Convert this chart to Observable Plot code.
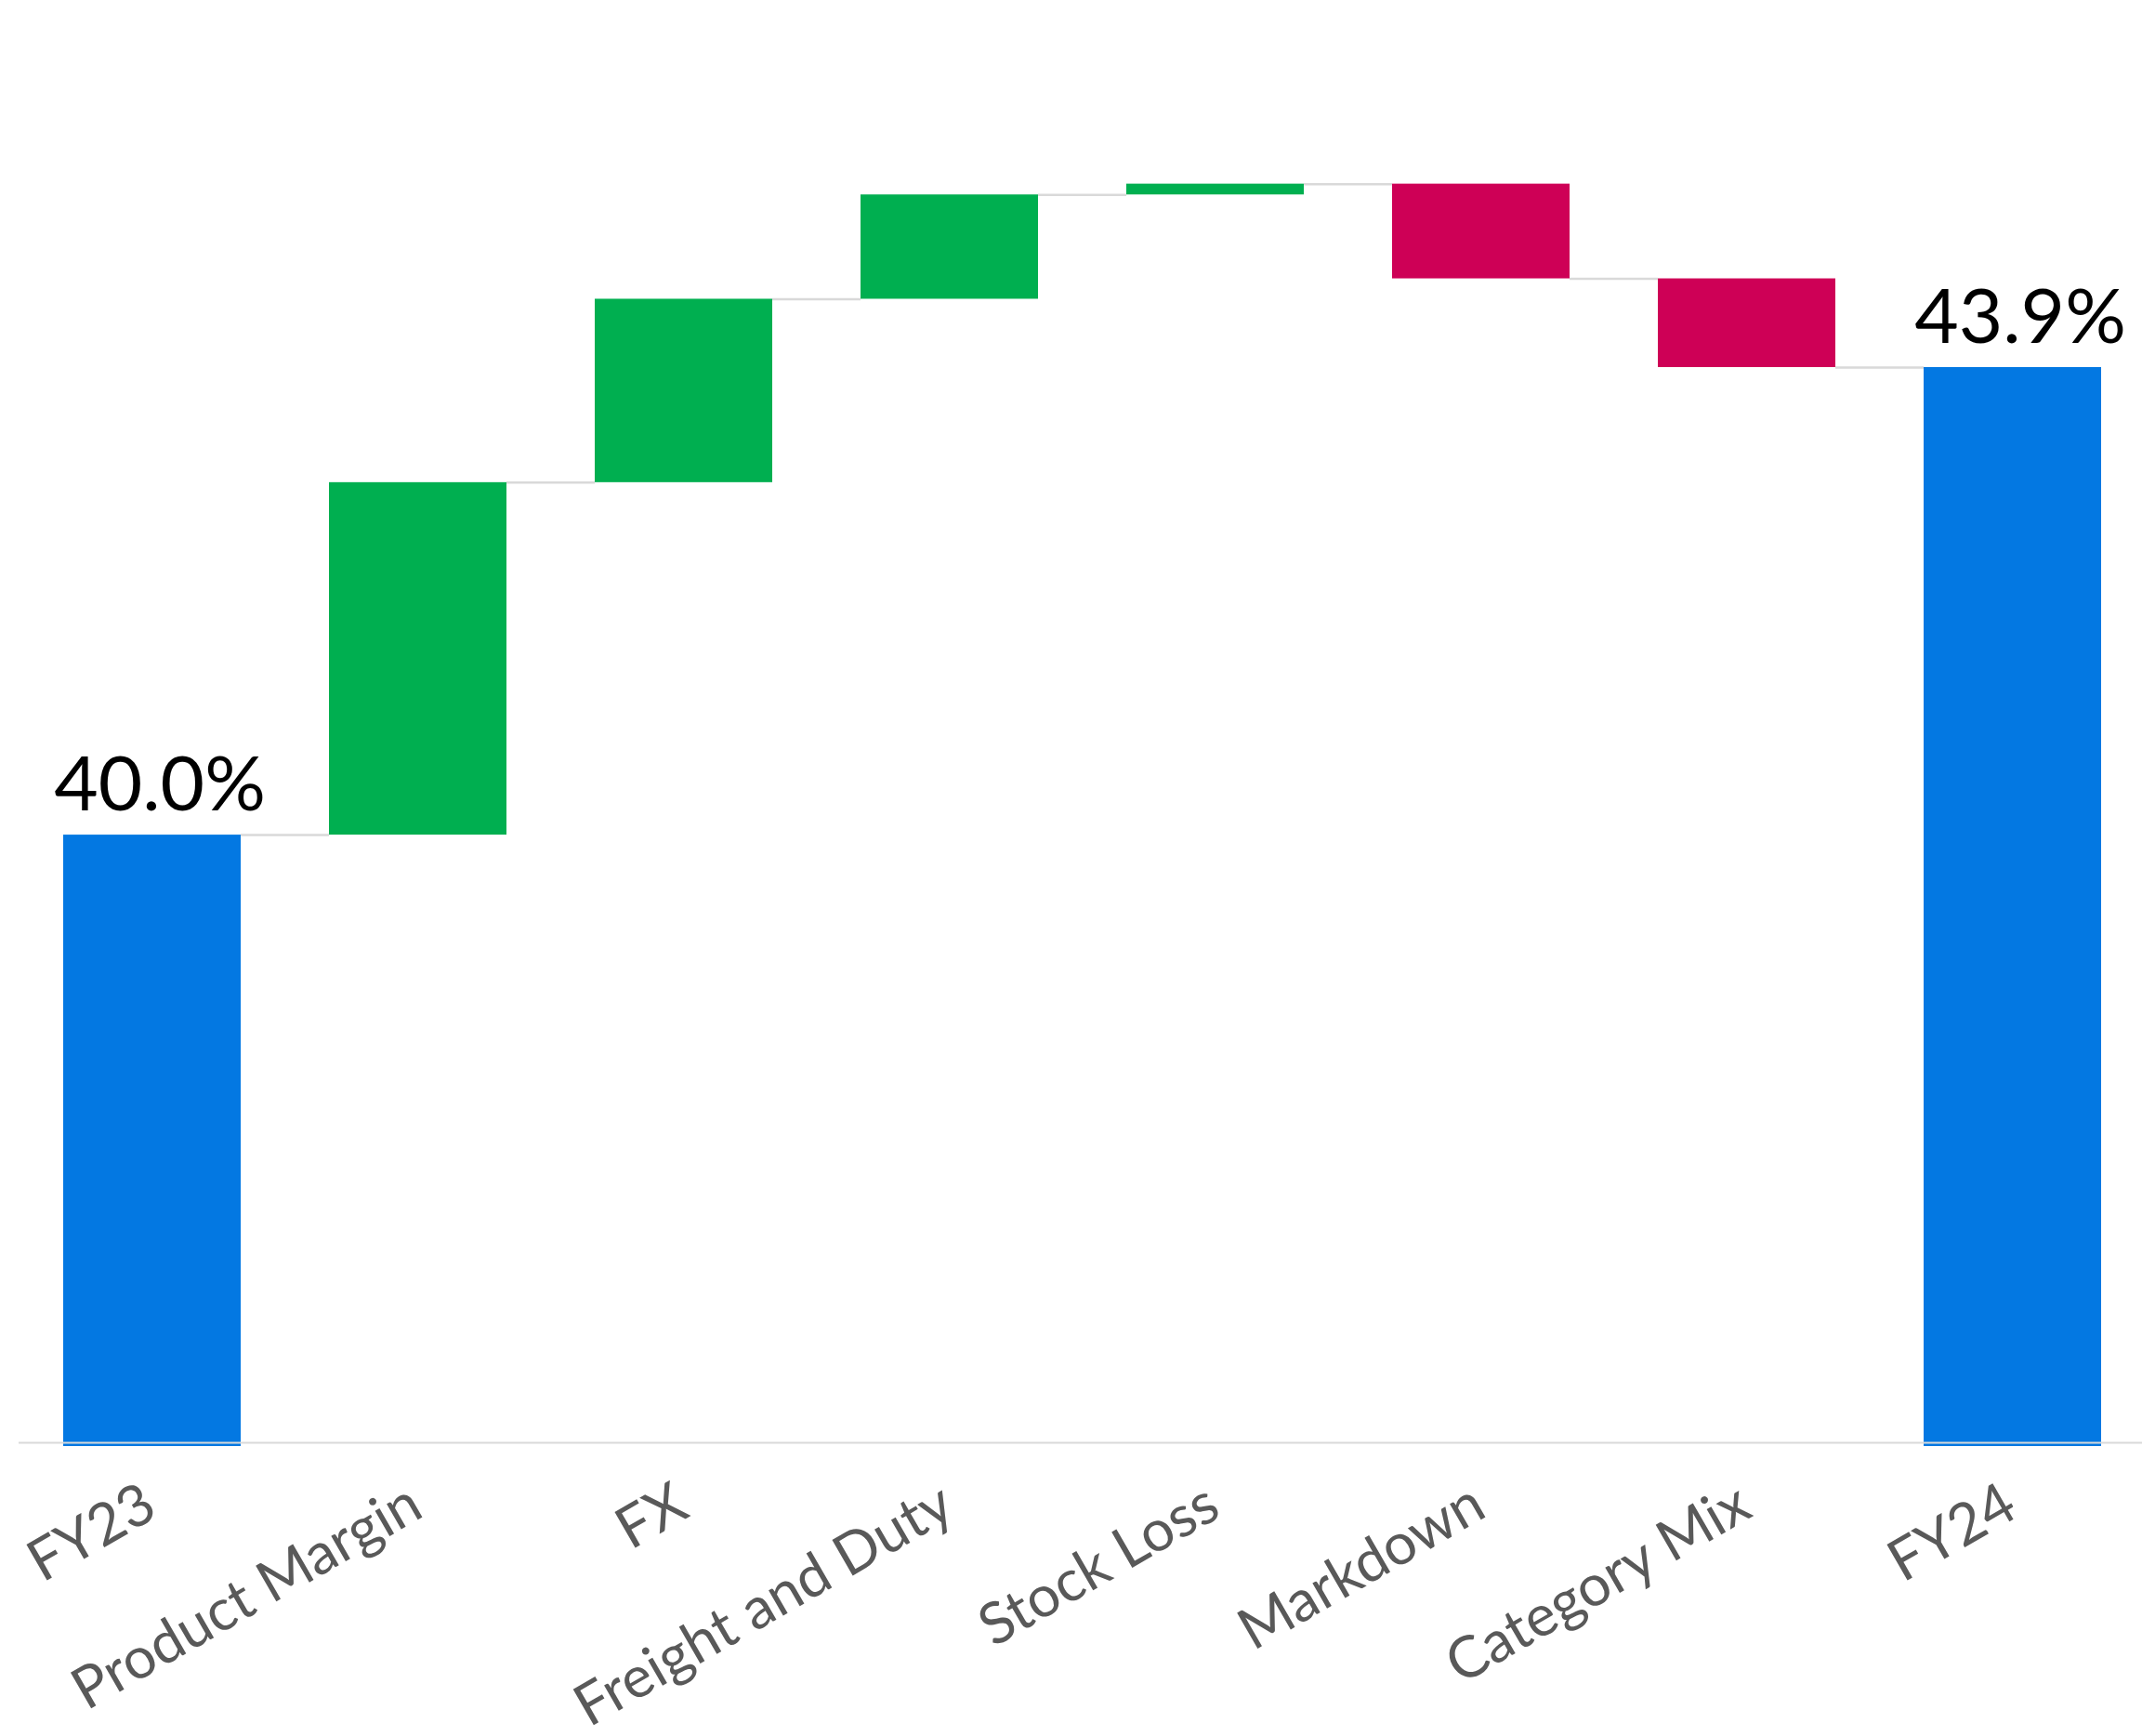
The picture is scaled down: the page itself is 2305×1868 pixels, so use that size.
<!DOCTYPE html>
<html>
<head>
<meta charset="utf-8">
<script src="https://cdn.jsdelivr.net/npm/d3@7"></script>
<script src="https://cdn.jsdelivr.net/npm/@observablehq/plot@0.6"></script>
<style>
  html, body { margin: 0; padding: 0; background: #ffffff; }
  #chart svg { display: block; }
</style>
</head>
<body>
<div id="chart"></div>
<script>
// ---- Data ----
const categories = ["FY23", "Product Margin", "FX", "Freight and Duty", "Stock Loss", "Markdown", "Category Mix", "FY24"];
const startValue = 40.0;   // FY23 gross margin, %
const endValue = 43.9;     // FY24 gross margin, %
const changeCategories = ["Product Margin", "FX", "Freight and Duty", "Stock Loss", "Markdown", "Category Mix"];
const changeValues = [2.94, 1.53, 0.87, 0.09, -0.79, -0.74]; // percentage-point bridge steps
const axisMin = 34.9;
const axisMax = 46.9;

const colors = {total: "#0378E2", up: "#00AF50", down: "#CE0056"};

// ---- Build waterfall table ----
const bars = [];
bars.push({cat: categories[0], y1: axisMin, y2: startValue, kind: "total", label: startValue.toFixed(1) + "%"});
let level = startValue;
const connectors = [{from: categories[0], to: changeCategories[0], level: startValue}];
changeCategories.forEach((c, i) => {
  const v = changeValues[i];
  const next = level + v;
  bars.push({cat: c, y1: level, y2: next, kind: v >= 0 ? "up" : "down"});
  const nextCat = i + 1 < changeCategories.length ? changeCategories[i + 1] : categories[categories.length - 1];
  connectors.push({from: c, to: nextCat, level: next});
  level = next;
});
bars.push({cat: categories[categories.length - 1], y1: axisMin, y2: endValue, kind: "total", label: endValue.toFixed(1) + "%"});

const baseOptions = {
  width: 2305,
  height: 1868,
  marginTop: 8,
  marginBottom: 312,
  marginLeft: 0,
  marginRight: 0,
  style: {fontFamily: "Lato, 'Open Sans', sans-serif", background: "#ffffff", overflow: "visible"},
  x: {domain: categories, paddingInner: 0.332, paddingOuter: 0.1957, align: 0.607, axis: null},
  y: {domain: [axisMin, axisMax], axis: null}
};

const barMark = Plot.barY(bars, {x: "cat", y1: "y1", y2: "y2", fill: d => colors[d.kind]});

// probe to read the band width from the library's own scale
const probe = Plot.plot({...baseOptions, marks: [barMark]});
const bw = probe.scale("x").bandwidth;

const chart = Plot.plot({
  ...baseOptions,
  marks: [
    Plot.ruleY(connectors, {x1: "from", x2: "to", y: "level", stroke: "#D9D9D9", strokeWidth: 2.5, insetLeft: bw, insetRight: bw}),
    barMark,
    Plot.ruleY([axisMin], {stroke: "#D9D9D9", strokeWidth: 2, dy: -4, insetLeft: 20}),
    Plot.text(bars.filter(d => d.label), {x: "cat", y: "y2", text: "label", fill: "#000000", fontSize: 82, lineAnchor: "bottom", dy: -27, dx: 8}),
    Plot.text(categories, {x: d => d, text: d => d, frameAnchor: "bottom", rotate: -30, textAnchor: "end", lineAnchor: "bottom", dy: 74, dx: 8, fontSize: 62, fill: "#595959"})
  ]
});

document.getElementById("chart").appendChild(chart);
</script>
</body>
</html>
